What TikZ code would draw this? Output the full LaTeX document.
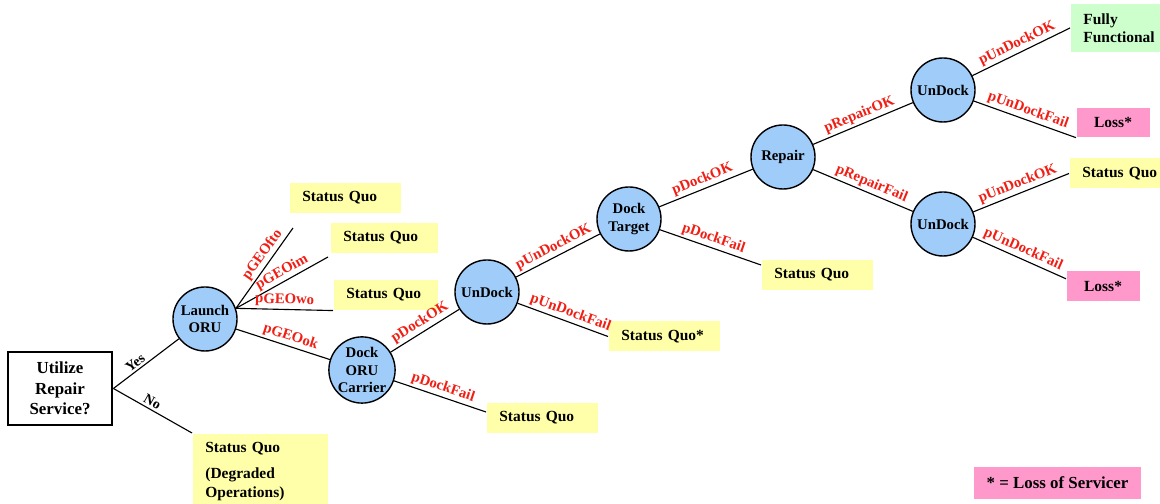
\documentclass[tikz,border=0pt]{standalone}
\usepackage{fontspec}
\setmainfont{Liberation Serif}
\usepackage{xcolor}
\definecolor{chanceblue}{RGB}{160,204,250}
\definecolor{quoyellow}{RGB}{255,255,170}
\definecolor{okgreen}{RGB}{204,255,204}
\definecolor{losspink}{RGB}{255,153,204}
\definecolor{probred}{RGB}{240,30,20}

\begin{document}
\begin{tikzpicture}[x=0.025cm,y=0.025cm,line width=0.8pt,
  chance/.style={circle,draw,line width=1pt,fill=chanceblue,minimum size=1.6cm,inner sep=0pt,align=center,font=\fontsize{10.5}{12.5}\selectfont\bfseries},
  leaf/.style={fill=quoyellow,anchor=west,minimum height=0.75cm,inner xsep=0.32cm,text width=2.135cm,align=left,font=\fontsize{11}{13}\selectfont\bfseries},
  lossbox/.style={fill=losspink,anchor=west,minimum width=1.825cm,minimum height=0.73cm,font=\fontsize{11}{13}\selectfont\bfseries},
  prob/.style={sloped,above,inner sep=1.5pt,text=probred,font=\fontsize{10.5}{12}\selectfont\bfseries},
  choice/.style={sloped,above,inner sep=1.5pt,font=\fontsize{10}{12}\selectfont\bfseries}]
\useasboundingbox (0,0) rectangle (1160,504);
%
\node[draw,line width=2pt,minimum width=2.6cm,minimum height=1.825cm,align=center,font=\fontsize{12}{14.5}\selectfont\bfseries] (root) at (60,115.5) {Utilize\\Repair\\Service?};
\node[chance] (launch) at (205,185) {Launch\\ORU};
\node[chance] (dockoru) at (362,134) {Dock\\ORU\\Carrier};
\node[chance] (undockA) at (487,212) {UnDock};
\node[chance] (docktgt) at (629,285) {Dock\\Target};
\node[chance] (repair) at (783,347) {Repair};
\node[chance] (undockB) at (943,414) {UnDock};
\node[chance] (undockC) at (943,280) {UnDock};
%
\node[leaf,anchor=north west,text width=2.735cm,minimum height=1.9cm,inner ysep=0.2cm] (sqNo) at (192,71) {Status Quo\\[5.5pt](Degraded\\Operations)};
\node[leaf] (sqFto) at (289,306) {Status Quo};
\node[leaf,text width=2.035cm] (sqIm) at (330,266) {Status Quo};
\node[leaf,text width=1.96cm] (sqWo) at (333,209) {Status Quo};
\node[leaf] (sqDock1) at (486,86) {Status Quo};
\node[leaf] (sqUndock) at (608,167.5) {Status Quo*};
\node[leaf] (sqDock2) at (761,229) {Status Quo};
\node[leaf,fill=okgreen,minimum height=1.2cm] (ff) at (1070,476) {Fully\\Functional};
\node[lossbox] (lossA) at (1076,381.5) {Loss*};
\node[leaf] (sqC) at (1069,330.5) {Status Quo};
\node[lossbox] (lossB) at (1066,218) {Loss*};
\node[fill=losspink,minimum width=4.175cm,minimum height=0.8cm,font=\fontsize{12}{14}\selectfont\bfseries] (key) at (1057.5,21) {* = Loss of Servicer};
%
\coordinate (eFto) at (293,276);
\coordinate (eIm) at (328,247);
%
\draw (root.east) -- node[choice,pos=0.4] {Yes} (launch);
\draw (root.east) -- node[choice,pos=0.45] {No} (sqNo.north west);
\draw (launch.19) -- node[prob,pos=0.6] {pGEOfto} (eFto);
\draw (launch.19) -- node[prob,pos=0.55] {pGEOim} (eIm);
\draw (launch.19) -- node[prob,pos=0.5] {pGEOwo} (sqWo.south west);
\draw (launch) -- node[prob,pos=0.55] {pGEOok} (dockoru);
\draw (dockoru) -- node[prob] {pDockOK} (undockA);
\draw (dockoru) -- node[prob] {pDockFail} ([yshift=0.15cm]sqDock1.west);
\draw (undockA) -- node[prob] {pUnDockOK} (docktgt);
\draw (undockA) -- node[prob,pos=0.55] {pUnDockFail} (sqUndock.west);
\draw (docktgt) -- node[prob] {pDockOK} (repair);
\draw (docktgt) -- node[prob] {pDockFail} ([yshift=0.25cm]sqDock2.west);
\draw (repair) -- node[prob] {pRepairOK} (undockB);
\draw (repair) -- node[prob,pos=0.55] {pRepairFail} (undockC);
\draw (undockB) -- node[prob] {pUnDockOK} (ff.west);
\draw (undockB) -- node[prob] {pUnDockFail} (lossA.south west);
\draw (undockC) -- node[prob] {pUnDockOK} (sqC.west);
\draw (undockC) -- node[prob] {pUnDockFail} ([yshift=0.18cm]lossB.west);
\end{tikzpicture}
\end{document}
